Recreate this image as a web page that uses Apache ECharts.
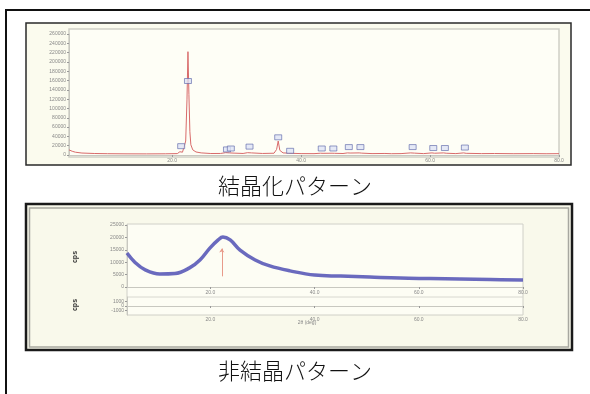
<!DOCTYPE html>
<html><head><meta charset="utf-8">
<script src="https://cdn.jsdelivr.net/npm/echarts@6/dist/echarts.min.js"></script>
<style>html,body{margin:0;padding:0;background:#fff}#c{width:590px;height:394px}</style>
</head><body><div id="c"></div>
<script>
// Crystalline XRD pattern (2θ, intensity)
const xrdAngle = [4,4.5,5,6,8,10,13,16,19,20.8,21.2,21.4,21.6,21.9,22.1,22.3,22.45,22.6,22.75,22.9,23.2,23.7,24.5,26,27.5,28.3,28.6,28.9,29.2,29.6,31,31.7,32,32.3,34,35.8,36.2,36.45,36.7,37.2,38,38.3,38.6,40,42,43,43.2,43.4,44.8,45,45.2,46.5,47.2,47.4,47.6,49,49.2,49.4,51,53,54,55.5,57,57.3,57.6,59,60.3,60.5,60.7,62.1,62.3,62.5,64,65.2,65.4,65.6,68,70,73,76,78,80];
const xrdIntensity = [11000,8000,6000,4200,3200,2800,2500,2400,2600,3000,7000,10000,6000,7000,30000,120000,222000,130000,50000,22000,11000,6500,4500,3200,3300,5000,6000,4500,6500,4000,3300,5000,8500,4500,3300,3800,12000,30000,10000,4500,4000,5000,3600,3000,2900,3800,5500,3600,3800,5500,3600,3200,4500,6500,4200,4500,6500,4000,3000,3300,2800,3000,4500,7000,4000,3000,4500,6000,3800,4500,6000,3800,3000,4500,6000,3600,3000,3200,2800,3000,2700,2900];
// Peak marker boxes
const markerAngle = [21.4,22.45,28.5,29.1,32,36.45,38.3,43.2,45,47.4,49.2,57.3,60.5,62.3,65.4];
const markerHeight = [19000,159000,12000,14000,18000,38000,9000,14000,14000,17000,17000,17000,15000,15000,16000];
// Amorphous pattern (2θ, intensity)
const amoAngle = [4,5.5,7.5,10.3,13.2,16,18,19.9,21.5,22.4,23.8,25.7,28.6,31.4,35.3,40,45,50.6,56.4,62.2,67.9,73.7,80];
const amoIntensity = [13700,10000,6900,5200,5400,7700,10900,15700,19000,20200,19000,14900,10900,8500,6500,4800,4400,4000,3600,3400,3200,3000,2800];
const xTicks = [20,40,60,80];
const topYTicks = {min:0,max:260000,interval:20000};
const amoYTicks = {min:0,max:25000,interval:5000};
const diffYTicks = {min:-2000,max:2000,interval:1000};
const captions = ['結晶化パターン','非結晶パターン'];

const pair = (a,b)=>a.map((v,i)=>[v,b[i]]);
const small = {fontSize:5,color:'#888',fontFamily:'Arial'};
const chart = echarts.init(document.getElementById('c'),null,{renderer:'canvas'});
function xAx(grid, showLabel, labelMargin){
  return {type:'value',gridIndex:grid,min:4,max:80,
    axisLine:{show:true,lineStyle:{color:'#c8c8c0',width:1}},
    axisTick:{show:true,customValues:xTicks,length:2,lineStyle:{color:'#999'}},
    axisLabel:{show:showLabel,customValues:xTicks,margin:labelMargin,...small,formatter:v=>v.toFixed(1)},
    splitLine:{show:false}};
}
function yAx(grid, t){
  return {type:'value',gridIndex:grid,min:t.min,max:t.max,interval:t.interval,
    axisLine:{show:true,lineStyle:{color:'#c8c8c0'}},
    axisTick:{show:true,length:2,lineStyle:{color:'#999'}},
    axisLabel:{show:true,margin:3,...small,formatter:v=>String(v)},
    splitLine:{show:false}};
}
chart.setOption({
  animation:false,
  backgroundColor:'#ffffff',
  graphic:{elements:[
    {type:'rect',z:-10,shape:{x:6,y:10,width:620,height:420},style:{fill:'#fff',stroke:'#111',lineWidth:2}},
    {type:'rect',z:-9,shape:{x:26,y:23,width:545,height:142},style:{fill:'#fbfbee',stroke:'#2a2a2a',lineWidth:1.5}},
    {type:'rect',z:-8,shape:{x:69,y:29,width:490,height:128},style:{fill:'#fefef6',stroke:'#cfcfc6',lineWidth:1.5}},
    {type:'rect',z:-9,shape:{x:26,y:204,width:546,height:146},style:{fill:'#f9f9eb',stroke:'#1a1a1a',lineWidth:2.5}},
    {type:'rect',z:-8,shape:{x:29.5,y:208,width:539,height:139},style:{fill:'none',stroke:'#a8a8a0',lineWidth:1.5}},
    {type:'rect',z:-7,shape:{x:127,y:224,width:396,height:91},style:{fill:'#fdfdf4',stroke:'#d0d0c8',lineWidth:1}},
    {type:'line',z:-6,shape:{x1:127,y1:297,x2:523,y2:297},style:{stroke:'#d8d8d0',lineWidth:1}},
    {type:'text',z:5,x:295,y:186,style:{text:captions[0],fontSize:22,fontWeight:300,fontFamily:'Noto Sans CJK JP',fill:'#111',align:'center',verticalAlign:'middle'}},
    {type:'text',z:5,x:295,y:371,style:{text:captions[1],fontSize:22,fontWeight:300,fontFamily:'Noto Sans CJK JP',fill:'#111',align:'center',verticalAlign:'middle'}},
    {type:'text',z:5,x:75,y:257,rotation:Math.PI/2,style:{text:'cps',fontSize:7,fontWeight:'bold',fill:'#333',align:'center',verticalAlign:'middle'}},
    {type:'text',z:5,x:75,y:305,rotation:Math.PI/2,style:{text:'cps',fontSize:7,fontWeight:'bold',fill:'#333',align:'center',verticalAlign:'middle'}},
    {type:'text',z:5,x:307,y:323,style:{text:'2θ (deg)',fontSize:5,fill:'#888',align:'center',verticalAlign:'middle'}}
  ]},
  grid:[
    {left:69,top:34,width:490,height:121},
    {left:127,top:225,width:396,height:62},
    {left:127,top:297,width:396,height:18}
  ],
  xAxis:[xAx(0,true,3),xAx(1,true,3),xAx(2,true,2)],
  yAxis:[yAx(0,topYTicks),yAx(1,amoYTicks),yAx(2,diffYTicks)],
  series:[
    {type:'line',xAxisIndex:0,yAxisIndex:0,data:pair(xrdAngle,xrdIntensity),showSymbol:false,
      lineStyle:{color:'#d86a6a',width:1},z:3},
    {type:'scatter',xAxisIndex:0,yAxisIndex:0,data:pair(markerAngle,markerHeight),symbol:'rect',symbolSize:[7,5],
      itemStyle:{color:'#dfe4f6',borderColor:'#5a64a8',borderWidth:0.8},z:4},
    {type:'line',xAxisIndex:1,yAxisIndex:1,data:pair(amoAngle,amoIntensity),showSymbol:false,smooth:0.4,
      lineStyle:{color:'#5a5ab8',width:3.5,opacity:0.9},z:3,
      markLine:{silent:true,symbol:['none','arrow'],symbolSize:4,label:{show:false},
        lineStyle:{color:'#e89a8a',width:1,type:'solid'},
        data:[[{coord:[22.2,4300]},{coord:[22.2,15500]}]]}}
  ]
});
</script></body></html>
